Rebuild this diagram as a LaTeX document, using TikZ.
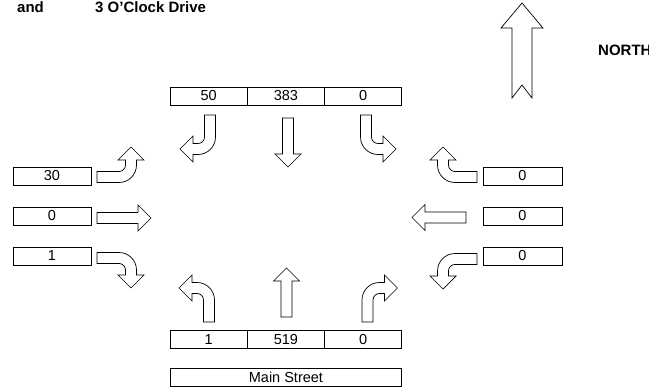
\documentclass[tikz,border=0pt]{standalone}
\usepackage{fontspec}
\setmainfont{Liberation Sans}
\usetikzlibrary{positioning}

\tikzset{
  countbox/.style={draw, line width=0.9pt, minimum width=77.3pt, minimum height=18pt,
    inner sep=0pt, outer sep=0pt, font=\fontsize{14.5}{16}\selectfont},
  headtext/.style={anchor=base west, inner sep=0pt, font=\fontsize{15}{17}\selectfont\bfseries},
  arrowline/.style={draw, fill=white, line width=0.7pt, line join=miter},
  pics/straightarrow/.style={code={
    \path[arrowline] (-5.5,0) -- (-5.5,-#1) -- (-13,-#1) -- (0,-#1-13)
      -- (13,-#1) -- (5.5,-#1) -- (5.5,0) -- cycle;
  }},
  pics/turnarrow/.style={code={
    \path[arrowline] (-5.5,0) -- (-5.5,-22)
      .. controls (-5.5,-31.67) and (2.33,-39.5) .. (12,-39.5)
      -- (17,-39.5) -- (17,-47) -- (30,-34) -- (17,-21) -- (17,-28.5) -- (12,-28.5)
      .. controls (8.41,-28.5) and (5.5,-25.59) .. (5.5,-22)
      -- (5.5,0) -- cycle;
  }}
}

\begin{document}
\begin{tikzpicture}[x=1pt, y=-1pt]
\useasboundingbox (0,0) rectangle (649,391);

% heading
\node[headtext] (hdand) at (17,12.5) {and};
\node[headtext] (hdstreet) at (95,12.5) {3 O'Clock Drive};

% north arrow
\path[arrowline] (522,3) -- (543,28) -- (532,28) -- (532,98) -- (522,85) -- (512,98) -- (512,28) -- (501,28) -- cycle;
\node[headtext] (north) at (598,55) {NORTH};

% approach counts
\node[countbox] (sbleft) at (208.65,96) {50};
\node[countbox, right=0pt of sbleft] (sbthru) {383};
\node[countbox, right=0pt of sbthru] (sbright) {0};

\node[countbox] (nbleft) at (208.65,339.5) {1};
\node[countbox, right=0pt of nbleft] (nbthru) {519};
\node[countbox, right=0pt of nbthru] (nbright) {0};
\node[countbox, minimum width=231.9pt, below=19.5pt of nbthru] (mainst) {Main Street};

\node[countbox, minimum width=78pt] (ebleft) at (52,176) {30};
\node[countbox, minimum width=78pt, below=22pt of ebleft] (ebthru) {0};
\node[countbox, minimum width=78pt, below=22pt of ebthru] (ebright) {1};

\node[countbox, minimum width=79pt] (wbright) at (522.5,176) {0};
\node[countbox, minimum width=79pt, below=22pt of wbright] (wbthru) {0};
\node[countbox, minimum width=79pt, below=22pt of wbthru] (wbleft) {0};

% movement arrows
\pic[rotate=180] at (210,115) {turnarrow};
\pic[rotate=180] at (288,118) {straightarrow=36};
\pic[yscale=-1] at (366,115) {turnarrow};

\pic[xscale=-1] at (209,322) {turnarrow};
\pic at (286.5,317) {straightarrow=36};
\pic at (367.5,322) {turnarrow};

\pic[rotate=-90, xscale=-1] at (97,177) {turnarrow};
\pic[rotate=-90] at (97,218) {straightarrow=41};
\pic[rotate=-90] at (97,258) {turnarrow};

\pic[rotate=90] at (477,177) {turnarrow};
\pic[rotate=90] at (466,217.5) {straightarrow=41};
\pic[rotate=90, xscale=-1] at (477,259) {turnarrow};

\end{tikzpicture}
\end{document}
